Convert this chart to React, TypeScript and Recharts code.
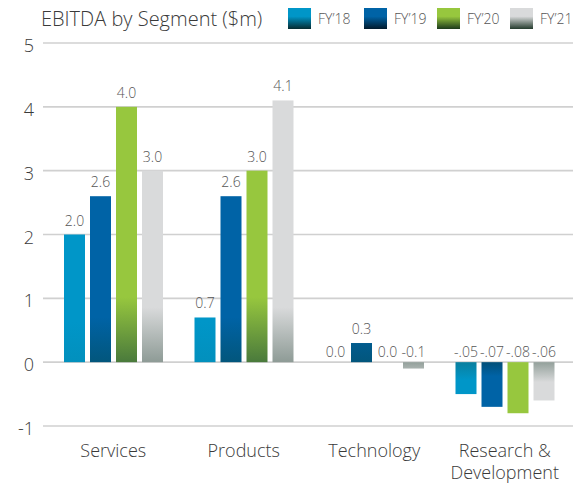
import React from 'react';
import { BarChart, Bar, XAxis, YAxis, CartesianGrid, LabelList, Legend } from 'recharts';

const title = 'EBITDA by Segment ($m)';
const categories = ['Services', 'Products', 'Technology', 'Research & Development'];
const seriesNames = ['FY’18', 'FY’19', 'FY’20', 'FY’21'];
const fy18 = [2.0, 0.7, 0.0, -0.5];
const fy19 = [2.6, 2.6, 0.3, -0.7];
const fy20 = [4.0, 3.0, 0.0, -0.8];
const fy21 = [3.0, 4.1, -0.1, -0.6];
const fy18Labels = ['2.0', '0.7', '0.0', '-.05'];
const fy19Labels = ['2.6', '2.6', '0.3', '-.07'];
const fy20Labels = ['4.0', '3.0', '0.0', '-.08'];
const fy21Labels = ['3.0', '4.1', '-0.1', '-.06'];
const yTicks = [-1, 0, 1, 2, 3, 4, 5];

const FONT = '"Open Sans", "DejaVu Sans", sans-serif';

type Series = {
  key: string;
  name: string;
  values: number[];
  labels: string[];
  base: string;
  dark: string;
  fade: number;
  negDark: string;
  negFade: number;
  legendDark: string;
};

const series: Series[] = [
  { key: 'fy18', name: seriesNames[0], values: fy18, labels: fy18Labels, base: '#0096c8', dark: '#0290bd', fade: 40, negDark: '#0a7f9e', negFade: 18, legendDark: '#062a30' },
  { key: 'fy19', name: seriesNames[1], values: fy19, labels: fy19Labels, base: '#0063a6', dark: '#02567c', fade: 45, negDark: '#024f78', negFade: 14, legendDark: '#021a2c' },
  { key: 'fy20', name: seriesNames[2], values: fy20, labels: fy20Labels, base: '#97c73e', dark: '#4a7a3c', fade: 65, negDark: '#97c73e', negFade: 1, legendDark: '#1c3a1c' },
  { key: 'fy21', name: seriesNames[3], values: fy21, labels: fy21Labels, base: '#d9dadb', dark: '#8e9b96', fade: 55, negDark: '#93a09b', negFade: 20, legendDark: '#233a2c' },
];

const data = categories.map((c, i) => {
  const row: Record<string, any> = { category: c };
  series.forEach((s) => {
    row[s.key] = s.values[i];
    row[s.key + 'Label'] = s.labels[i];
  });
  return row;
});

const makeShape = (s: Series) => (props: any) => {
  const { x, y, width, height, index } = props;
  const v = s.values[index];
  const h = Math.abs(height || 0);
  if (!h || h < 0.5) return <g />;
  const top = Math.min(y, y + height);
  const positive = v >= 0;
  const zeroY = positive ? top + h : top;
  const fade = positive ? s.fade : s.negFade;
  const dark = positive ? s.dark : s.negDark;
  const id = `grad-${s.key}-${index}`;
  return (
    <g>
      <defs>
        <linearGradient id={id} gradientUnits="userSpaceOnUse" x1={0} x2={0} y1={positive ? zeroY - fade : zeroY + fade} y2={zeroY}>
          <stop offset="0" stopColor={s.base} />
          <stop offset="1" stopColor={dark} />
        </linearGradient>
      </defs>
      <rect x={x} y={top} width={width} height={h} fill={`url(#${id})`} />
    </g>
  );
};

const makeLabel = (s: Series) => (props: any) => {
  const vb = props.viewBox || props;
  const { x, y, width, height } = vb;
  const index = props.index;
  const v = s.values[index];
  const top = Math.min(y, y + (height || 0));
  const baseline = v > 0 ? top - 9 : top - 5;
  return (
    <text x={x + width / 2} y={baseline} textAnchor="middle" fill="#555555" fontSize={14} fontFamily={FONT} fontWeight={300}>
      {s.labels[index]}
    </text>
  );
};

const splitLabel = (label: string) => {
  const idx = label.indexOf(' & ');
  if (idx >= 0) return [label.slice(0, idx) + ' &', label.slice(idx + 3)];
  return [label];
};

const CategoryTick = (props: any) => {
  const { x, y, payload } = props;
  const lines = splitLabel(String(payload.value));
  return (
    <text x={x} y={y} textAnchor="middle" fill="#3a3a3a" fontSize={18} fontFamily={FONT} fontWeight={300}>
      {lines.map((l, i) => (
        <tspan key={i} x={x} dy={i === 0 ? 31 : 22}>
          {l}
        </tspan>
      ))}
    </text>
  );
};

const ValueTick = (props: any) => {
  const { x, y, payload } = props;
  return (
    <text x={x} y={y + 9} textAnchor="end" fill="#3a3a3a" fontSize={18} fontFamily={FONT} fontWeight={300}>
      {payload.value}
    </text>
  );
};

const LegendContent = (props: any) => {
  const payload = props.payload || [];
  const positions = [288, 364, 437, 510];
  return (
    <div style={{ position: 'relative', width: 575, height: 40, fontFamily: FONT }}>
      <div style={{ position: 'absolute', left: 41, top: 5, fontSize: 20, fontWeight: 300, color: '#3a3a3a', whiteSpace: 'nowrap' }}>{title}</div>
      {payload.map((p: any, i: number) => {
        const s = series.find((ss) => ss.key === p.dataKey) || series[i];
        return (
          <div key={i} style={{ position: 'absolute', left: positions[i], top: 8, display: 'flex', alignItems: 'center' }}>
            <div style={{ width: 23, height: 21, background: `linear-gradient(to bottom, ${s.base} 0%, ${s.base} 40%, ${s.legendDark} 100%)` }} />
            <span style={{ marginLeft: 7, fontSize: 14, fontWeight: 300, color: '#555555', whiteSpace: 'nowrap' }}>{p.value}</span>
          </div>
        );
      })}
    </div>
  );
};

export default function App() {
  return (
    <div style={{ width: 575, height: 483, position: 'relative', background: '#fff' }}>
      <style>{'body{margin:0}'}</style>
      <BarChart width={575} height={483} data={data} margin={{ top: 43, right: 2, left: 0, bottom: 0 }} barSize={21} barGap={5}>
        <CartesianGrid vertical={false} stroke="#d0d0d0" strokeWidth={1.6} />
        <XAxis dataKey="category" height={57} axisLine={false} tickLine={false} tickSize={0} tickMargin={0} padding={{ left: 5, right: 3 }} tick={<CategoryTick />} interval={0} />
        <YAxis type="number" domain={[-1, 5]} ticks={yTicks} width={43} axisLine={false} tickLine={false} tickSize={0} tickMargin={9} tick={<ValueTick />} interval={0} />
        <Legend verticalAlign="top" align="left" content={<LegendContent />} wrapperStyle={{ top: 0, left: 0, width: 575, height: 0, overflow: 'visible' }} />
        {series.map((s) => (
          <Bar key={s.key} dataKey={s.key} name={s.name} fill={s.base} isAnimationActive={false} shape={makeShape(s)}>
            <LabelList dataKey={s.key + 'Label'} content={makeLabel(s)} />
          </Bar>
        ))}
      </BarChart>
    </div>
  );
}
